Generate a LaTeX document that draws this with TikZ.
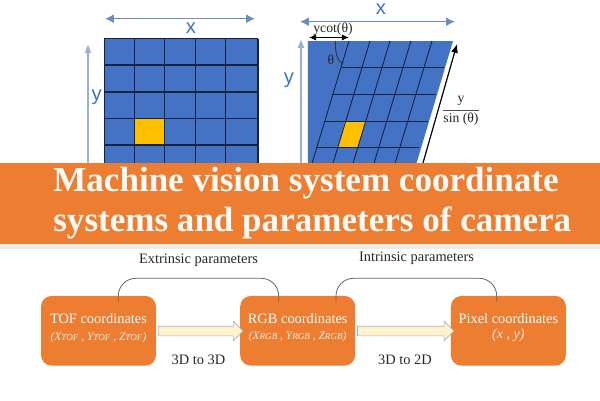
\documentclass[tikz,border=0pt]{standalone}
\usepackage{fontspec}
\setmainfont{Liberation Serif}
\newfontfamily\sansf{Liberation Sans}
\usetikzlibrary{arrows.meta,shapes.arrows}
\definecolor{gridblue}{HTML}{4472C4}
\definecolor{axisblue}{HTML}{6C8EBF}
\definecolor{gridline}{HTML}{14233F}
\definecolor{orangeb}{HTML}{ED7D31}
\definecolor{gold}{HTML}{FFC000}
\definecolor{cream}{HTML}{FFF2CC}
\definecolor{arrowedge}{HTML}{A5B1C2}
\newcommand{\subc}[1]{{\fontsize{5.2}{6}\selectfont #1}}
\tikzset{
 x=0.02cm,y=-0.02cm,
 gl/.style={draw=gridline,line width=0.7pt},
 glr/.style={draw=gridline,line width=0.5pt},
 axis/.style={draw=axisblue,line width=0.7pt,{Latex[length=5pt,width=5pt]}-{Latex[length=5pt,width=5pt]}},
 axisup/.style={draw=axisblue!70,line width=0.8pt,-{Latex[length=5pt,width=4pt]}},
 axl/.style={text=gridblue,font=\sansf\fontsize{11.5}{12}\selectfont,inner sep=0pt},
 cbox/.style={fill=orangeb,rounded corners=6pt,minimum width=2.3cm,minimum height=1.394cm,inner sep=0pt},
 boxt/.style={text=white,inner sep=0pt,font=\fontsize{8.2}{10}\selectfont},
 boxs/.style={text=white!90!orangeb,inner sep=0pt,font=\fontsize{6.5}{8}\selectfont\itshape},
 lab/.style={font=\fontsize{8.2}{10}\selectfont,text=black!85,inner sep=0pt},
 mathl/.style={font=\fontsize{7.8}{9}\selectfont,inner sep=0pt,text=black!85},
 fat/.style={single arrow,draw=arrowedge,fill=cream,line width=0.4pt,text height=0.18cm,text depth=0pt,minimum width=0.38cm,single arrow head extend=0.1cm,single arrow tip angle=90,inner sep=0pt},
 arcline/.style={draw=black!60,line width=0.45pt,rounded corners=10pt},
 bannert/.style={inner sep=0pt,text=white!96!orangeb,anchor=base west,font=\bfseries\fontsize{19.95}{24}\selectfont}
}
\begin{document}
\begin{tikzpicture}
\useasboundingbox (0,0) rectangle (600,400);
\fill[white] (0,0) rectangle (600,400);
% left grid
\fill[gridblue] (104.5,38.7) rectangle (258,165);
\fill[gold] (134.7,118.7) rectangle (164.7,145);
\foreach \v in {104.5,134.7,164.7,195.3,225.3,258} \draw[gl] (\v,38.7) -- (\v,165);
\foreach \h in {38.7,65,92,118.7,145} \draw[gl] (104.5,\h) -- (258,\h);
\coordinate (xl) at (105,18.7); \coordinate (xr) at (255,18.7);
\draw[axis] (xl) -- (xr);
\node[axl] (xa) at (191,28) {x};
\coordinate (yb) at (88,165); \coordinate (yt) at (88,44);
\draw[axisup] (yb) -- (yt);
\node[axl] (ya) at (96.7,97) {y};
% right grid
\fill[gridblue] (308,41) -- (453,41) -- (416,165) -- (308,165) -- cycle;
\fill[gold] (345,121) -- (365.5,121) -- (357.7,147) -- (338.3,147) -- cycle;
\foreach \h/\a/\b in {67/342/444,94/333/436,121/324/428,147/316/419} \draw[glr] (\a,\h) -- (\b,\h);
\foreach \t in {349,370,390,411,432} \draw[glr] (\t,41) -- ({\t-37.5},165);
\coordinate (xl2) at (300,21.7); \coordinate (xr2) at (455,21.7);
\draw[axis] (xl2) -- (xr2);
\node[axl] (xb) at (381,9) {x};
\coordinate (yb2) at (301,165); \coordinate (yt2) at (301,39);
\draw[axisup] (yb2) -- (yt2);
\node[axl] (yc) at (289,80) {y};
\coordinate (cl) at (309,37.5); \coordinate (cr) at (349,37.5);
\draw[black,line width=0.6pt,{Latex[length=4pt,width=3.5pt]}-{Latex[length=4pt,width=3.5pt]}] (cl) -- (cr);
\node[mathl] (cot) at (333,29) {ycot(θ)};
\node[mathl] (th) at (331,60) {θ};
\coordinate (a1) at (335.5,41); \coordinate (a2) at (343,64);
\draw[black!80,line width=0.5pt] (a1) .. controls (335,52) and (337,61) .. (a2);
\coordinate (s1) at (423,163); \coordinate (s2) at (457,44);
\draw[black,line width=0.7pt,-{Latex[length=5pt,width=4pt]}] (s1) -- (s2);
\node[mathl] (sn) at (461,119) {sin (θ)};
\node[mathl] (sy) at (461,101) {y};
\coordinate (fl) at (443,110); \coordinate (fr) at (479,110);
\draw[black!70,line width=0.5pt] (fl) -- (fr);
% banner
\fill[black!8] (0,244) rectangle (600,249);
\fill[orangeb] (0,163) rectangle (600,244);
\node[bannert] (t1) at (53,191.7) {Machine vision system coordinate};
\node[bannert] (t2) at (53,231) {systems and parameters of camera};
% boxes
\node[cbox] (tof) at (98.5,330.8) {};
\node[cbox] (rgb) at (297.7,330.8) {};
\node[cbox] (pix) at (508.4,330.8) {};
\node[boxt] (toft) at (98.5,319) {TOF coordinates};
\node[boxs] (tofs) at (98.5,338) {(X\subc{TOF} , Y\subc{TOF} , Z\subc{TOF})};
\node[boxt] (rgbt) at (297.7,319) {RGB coordinates};
\node[boxs] (rgbs) at (297.7,337) {(X\subc{RGB} , Y\subc{RGB} , Z\subc{RGB})};
\node[boxt] (pixt) at (508.4,319) {Pixel coordinates};
\node[boxs,font=\fontsize{8}{9}\selectfont\itshape] (pixs) at (508.4,335) {(x , y)};
\node[fat,minimum height=1.7cm] (a1f) at (198.3,331) {};
\node[fat,minimum height=1.93cm] (a2f) at (403.3,331) {};
\node[lab] (l1) at (198.5,260.5) {Extrinsic parameters};
\node[lab] (l2) at (416.5,258.5) {Intrinsic parameters};
\node[lab] (l3) at (198.5,359.5) {3D to 3D};
\node[lab] (l4) at (405,359.5) {3D to 2D};
\coordinate (e1) at (118.3,301.7); \coordinate (e2) at (278.7,301.7);
\coordinate (i1) at (336,301.7); \coordinate (i2) at (496.7,301.7);
\draw[arcline] (e1) -- (118.3,278.3) -- (278.7,278.3) -- (e2);
\draw[arcline] (i1) -- (336,278.3) -- (496.7,278.3) -- (i2);
\end{tikzpicture}
\end{document}
